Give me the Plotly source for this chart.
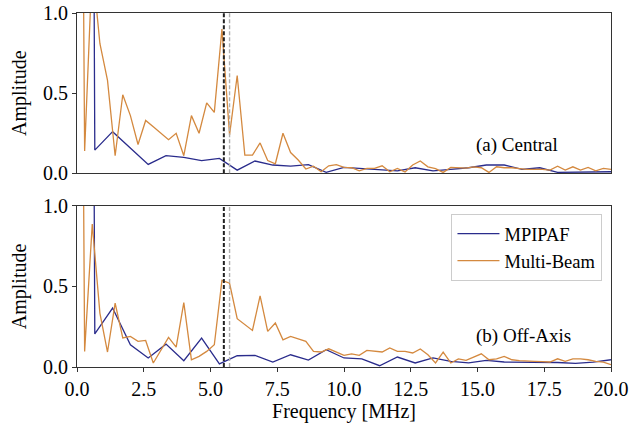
import plotly.graph_objects as go

# ---------------- data ----------------
DF_MPIPAF = 2.0 / 3.0      # MHz spacing of MPIPAF spectrum
DF_MB = 2.0 / 7.0          # MHz spacing of Multi-Beam spectrum

mpipaf_central = [25.0, 0.145, 0.26, 0.155, 0.056, 0.11, 0.10, 0.08, 0.093, 0.02,
                  0.077, 0.052, 0.045, 0.054, 0.006, 0.037, 0.03, 0.027, 0.016, 0.035,
                  0.015, 0.025, 0.035, 0.052, 0.052, 0.025, 0.035, 0.006, 0.008, 0.008,
                  0.01]
multibeam_central = [7.0, 0.14, 1.3, 0.81, 0.58, 0.11, 0.49, 0.36, 0.18, 0.33,
                     0.29, 0.25, 0.21, 0.25, 0.11, 0.36, 0.25, 0.44, 0.38, 0.90,
                     0.24, 0.61, 0.114, 0.114, 0.19, 0.08, 0.06, 0.25, 0.13, 0.083,
                     0.027, 0.045, 0.01, 0.047, 0.054, 0.037, 0.035, 0.016, 0.031, 0.031,
                     0.047, 0.01, 0.031, 0.008, 0.052, 0.077, 0.041, 0.03, 0.006, 0.037,
                     0.035, 0.033, 0.041, 0.035, 0.006, 0.041, 0.035, 0.035, 0.03, 0.025,
                     0.025, 0.025, 0.02, 0.045, 0.02, 0.041, 0.02, 0.037, 0.016, 0.031,
                     0.025]
mpipaf_offaxis = [25.0, 0.205, 0.366, 0.138, 0.056, 0.142, 0.039, 0.18, 0.019, 0.07,
                  0.072, 0.031, 0.076, 0.043, 0.107, 0.056, 0.051, 0.008, 0.062, 0.025,
                  0.056, 0.035, 0.025, 0.041, 0.031, 0.031, 0.031, 0.028, 0.022, 0.03,
                  0.045]
multibeam_offaxis = [7.3, 0.097, 0.888, 0.335, 0.093, 0.397, 0.18, 0.19, 0.159, 0.165,
                     0.025, 0.107, 0.184, 0.124, 0.40, 0.045, 0.066, 0.097, 0.138, 0.537,
                     0.52, 0.30, 0.262, 0.227, 0.442, 0.221, 0.273, 0.169, 0.19, 0.175,
                     0.159, 0.097, 0.093, 0.113, 0.093, 0.072, 0.081, 0.072, 0.103, 0.097,
                     0.093, 0.118, 0.097, 0.097, 0.087, 0.112, 0.076, 0.025, 0.093, 0.025,
                     0.05, 0.041, 0.06, 0.082, 0.045, 0.05, 0.066, 0.045, 0.039, 0.035,
                     0.035, 0.033, 0.031, 0.051, 0.035, 0.05, 0.051, 0.045, 0.035, 0.03,
                     0.015]

freq_mpipaf = [i * DF_MPIPAF for i in range(len(mpipaf_central))]
freq_mb = [i * DF_MB for i in range(len(multibeam_central))]

VLINES = [5.5, 5.714]
VLINE_COLORS = ["#222222", "#b0b0b0"]
X_TICKS = [0, 2.5, 5, 7.5, 10, 12.5, 15, 17.5, 20]
Y_TICKS = [0, 0.5, 1.0]
PANEL_LABELS = ["(a) Central", "(b) Off-Axis"]

BLUE = "#2a2c8c"
ORANGE = "#d4893f"
FONT = "Liberation Serif"
FS = 20

fig = go.Figure()

fig.add_trace(go.Scatter(x=freq_mpipaf, y=mpipaf_central, mode="lines",
                         line=dict(color=BLUE, width=1.3), name="MPIPAF",
                         xaxis="x", yaxis="y", showlegend=False))
fig.add_trace(go.Scatter(x=freq_mb, y=multibeam_central, mode="lines",
                         line=dict(color=ORANGE, width=1.3), name="Multi-Beam",
                         xaxis="x", yaxis="y", showlegend=False))
fig.add_trace(go.Scatter(x=freq_mpipaf, y=mpipaf_offaxis, mode="lines",
                         line=dict(color=BLUE, width=1.3), name="MPIPAF",
                         xaxis="x2", yaxis="y2"))
fig.add_trace(go.Scatter(x=freq_mb, y=multibeam_offaxis, mode="lines",
                         line=dict(color=ORANGE, width=1.3), name="Multi-Beam",
                         xaxis="x2", yaxis="y2"))

shapes = []
for yref in ["y domain", "y2 domain"]:
    xref = "x" if yref == "y domain" else "x2"
    for v, c in zip(VLINES, VLINE_COLORS):
        shapes.append(dict(type="line", xref=xref, yref=yref, x0=v, x1=v, y0=0, y1=1,
                           line=dict(color=c, width=2 if c == "#222222" else 1.4,
                                     dash="4px,2px")))

axis_common = dict(showline=True, linecolor="#333333", linewidth=1, mirror=True,
                   showgrid=False, zeroline=False, ticklen=4, automargin=False,
                   tickcolor="#333333", tickfont=dict(family=FONT, size=FS, color="black"))

fig.update_layout(
    width=630, height=426,
    margin=dict(l=76.5, r=18.5, t=12.7, b=58.7),
    plot_bgcolor="white", paper_bgcolor="white",
    font=dict(family=FONT, size=FS, color="black"),
    shapes=shapes,
    xaxis=dict(domain=[0, 1], anchor="y", range=[0, 20], tickvals=X_TICKS,
               showticklabels=False, ticks="", **axis_common),
    yaxis=dict(domain=[0.547, 1], anchor="x", range=[0, 1], tickvals=Y_TICKS,
               tickformat=".1f", ticks="outside",
               title=dict(text="Amplitude", standoff=10, font=dict(family=FONT, size=FS)),
               **axis_common),
    xaxis2=dict(domain=[0, 1], anchor="y2", range=[0, 20], tickvals=X_TICKS,
                tickformat=".1f", matches="x", ticks="outside",
                title=dict(text="Frequency [MHz]", standoff=4,
                           font=dict(family=FONT, size=FS)),
                **axis_common),
    yaxis2=dict(domain=[0, 0.455], anchor="x2", range=[0, 1], tickvals=Y_TICKS,
                tickformat=".1f", ticks="outside",
                title=dict(text="Amplitude", standoff=10, font=dict(family=FONT, size=FS)),
                **axis_common),
    legend=dict(x=0.984, y=0.432, xanchor="right", yanchor="top",
                bgcolor="white", bordercolor="#cccccc", borderwidth=1,
                font=dict(family=FONT, size=18.5), tracegroupgap=2, itemwidth=42),
    annotations=[
        dict(text=PANEL_LABELS[0], xref="x domain", yref="y domain", x=0.904, y=0.176,
             xanchor="right", yanchor="middle", showarrow=False,
             font=dict(family=FONT, size=19)),
        dict(text=PANEL_LABELS[1], xref="x2 domain", yref="y2 domain", x=0.928, y=0.19,
             xanchor="right", yanchor="middle", showarrow=False,
             font=dict(family=FONT, size=19)),
    ],
)

fig.write_html("out.html")
